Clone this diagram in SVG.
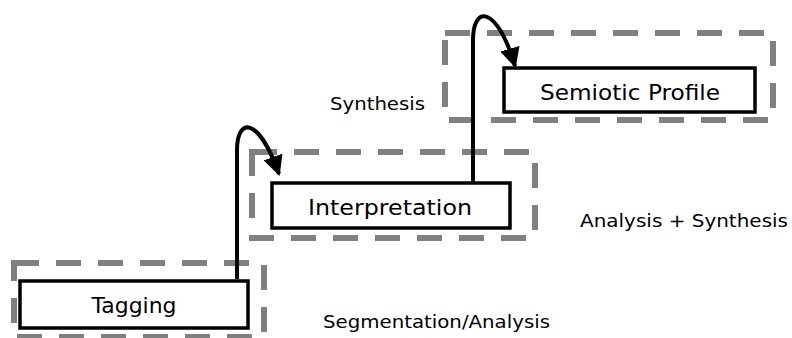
<svg xmlns="http://www.w3.org/2000/svg" width="792" height="338" viewBox="0 0 792 338">
<defs>
<style>
.dash{fill:none;stroke:#808080;stroke-width:6;stroke-dasharray:25 17}
.box{fill:#fff;stroke:#000;stroke-width:3.5}
.lbl{font-family:"Comic Sans MS","DejaVu Sans",sans-serif;font-size:21px;fill:#000;text-anchor:middle}
.note{font-family:"Comic Sans MS","DejaVu Sans",sans-serif;font-size:17px;fill:#000}
.conn{fill:none;stroke:#000;stroke-width:4}
</style>
<marker id="ah" viewBox="0 0 10 10" refX="9" refY="5" markerWidth="5" markerHeight="5" orient="auto" markerUnits="strokeWidth">
<path d="M0,0 L10,5 L0,10 z" fill="#000"/>
</marker>
</defs>
<rect width="792" height="338" fill="#fff"/>
<g id="stage-tagging">
<rect class="dash" x="14" y="263" width="250" height="74"/>
</g>
<g id="stage-interpretation">
<rect class="dash" x="252" y="152" width="283" height="86"/>
</g>
<g id="stage-semiotic">
<rect class="dash" x="445" y="33" width="328" height="87"/>
</g>
<g id="connectors">
<path class="conn" d="M237,279 L237,150 C237,118 258,115 279,174" marker-end="url(#ah)"/>
<path class="conn" d="M473,183 L473,40 C473,5 497,5 515,66" marker-end="url(#ah)"/>
</g>
<g id="node-tagging">
<rect class="box" x="20" y="281" width="228" height="47"/>
<text class="lbl" x="134" y="313" textLength="85" lengthAdjust="spacingAndGlyphs">Tagging</text>
</g>
<g id="node-interpretation">
<rect class="box" x="272" y="183" width="238" height="45"/>
<text class="lbl" x="390" y="215" textLength="164" lengthAdjust="spacingAndGlyphs">Interpretation</text>
</g>
<g id="node-semiotic">
<rect class="box" x="504" y="68" width="251" height="44"/>
<text class="lbl" x="630" y="100" textLength="180" lengthAdjust="spacingAndGlyphs">Semiotic Profile</text>
</g>
<g id="labels">
<text class="note" x="330" y="110" textLength="95" lengthAdjust="spacingAndGlyphs">Synthesis</text>
<text class="note" x="323" y="328" textLength="227" lengthAdjust="spacingAndGlyphs">Segmentation/Analysis</text>
<text class="note" x="580" y="227" textLength="208" lengthAdjust="spacingAndGlyphs">Analysis + Synthesis</text>
</g>
</svg>
